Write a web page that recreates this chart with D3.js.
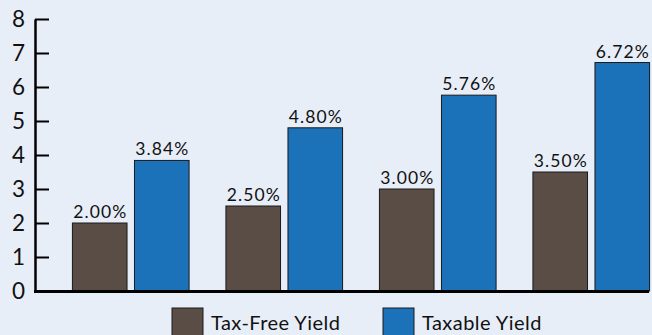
<!DOCTYPE html>
<html>
<head>
<meta charset="utf-8">
<script src="https://cdn.jsdelivr.net/npm/d3@7"></script>
<style>
  html, body { margin: 0; padding: 0; background: #e8eef8; }
  svg { display: block; }
  text { font-family: "Lato", "Open Sans", sans-serif; fill: #111; }
</style>
</head>
<body>
<svg id="chart" width="652" height="335"></svg>
<script>
// Yield comparison by bracket
const groups = ["A", "B", "C", "D"];
const seriesNames = ["Tax-Free Yield", "Taxable Yield"];
const taxFree = [2.00, 2.50, 3.00, 3.50];
const taxable = [3.84, 4.80, 5.76, 6.72];
const yTicks = [0, 1, 2, 3, 4, 5, 6, 7, 8];
const colors = ["#5a4d45", "#1b72b9"];

const svg = d3.select("#chart");
const W = 652, H = 335;

svg.append("rect").attr("width", W).attr("height", H).attr("fill", "#e8eef8");

const y = d3.scaleLinear().domain([0, 8]).range([291, 19]);
const x0 = d3.scaleBand().domain(groups).range([54, 668]).paddingInner(0.24).paddingOuter(0.12);
const x1 = d3.scaleBand().domain(seriesNames).range([0, x0.bandwidth()]).paddingInner(0.12).paddingOuter(0);
const color = d3.scaleOrdinal().domain(seriesNames).range(colors);

const rows = groups.map((g, i) => ({ g, vals: [
  { name: seriesNames[0], v: taxFree[i] },
  { name: seriesNames[1], v: taxable[i] }
]}));

// bars
const gg = svg.selectAll("g.grp").data(rows).join("g")
  .attr("class", "grp")
  .attr("transform", d => `translate(${x0(d.g)},0)`);

gg.selectAll("rect").data(d => d.vals).join("rect")
  .attr("x", d => x1(d.name))
  .attr("y", d => y(d.v))
  .attr("width", x1.bandwidth())
  .attr("height", d => y(0) - y(d.v))
  .attr("fill", d => color(d.name))
  .attr("stroke", "#1a1a1a")
  .attr("stroke-width", 1);

// value labels above each bar
gg.selectAll("text.val").data(d => d.vals).join("text")
  .attr("class", "val")
  .attr("x", d => x1(d.name) + x1.bandwidth() / 2 + 0.6)
  .attr("y", d => y(d.v) - 5)
  .attr("text-anchor", "middle")
  .attr("font-size", 17.5)
  .attr("letter-spacing", 1.1)
  .text(d => d.v.toFixed(2) + "%");

// y axis
const yAxis = d3.axisLeft(y).tickValues(yTicks).tickSize(-14).tickSizeOuter(0).tickPadding(10);
const ya = svg.append("g").attr("transform", "translate(35,0)").call(yAxis);
ya.select(".domain").attr("stroke", "#000").attr("stroke-width", 2.5);
ya.selectAll(".tick line").attr("stroke", "#000").attr("stroke-width", 2);
ya.selectAll(".tick text").attr("font-size", 22.5).attr("fill", "#111")
  .style("font-family", "Lato, 'Open Sans', sans-serif");

// x baseline
svg.append("line")
  .attr("x1", 34).attr("x2", 649)
  .attr("y1", y(0) + 0.5).attr("y2", y(0) + 0.5)
  .attr("stroke", "#000").attr("stroke-width", 3);

// legend
const legendX = [172, 383];
const lg = svg.selectAll("g.leg").data(seriesNames).join("g")
  .attr("class", "leg")
  .attr("transform", (d, i) => `translate(${legendX[i]},308)`);
lg.append("rect").attr("width", 31).attr("height", 31)
  .attr("fill", d => color(d)).attr("stroke", "#1a1a1a").attr("stroke-width", 1);
lg.append("text").attr("x", 39).attr("y", 22).attr("font-size", 20)
  .attr("letter-spacing", 0.45).text(d => d);
</script>
</body>
</html>
